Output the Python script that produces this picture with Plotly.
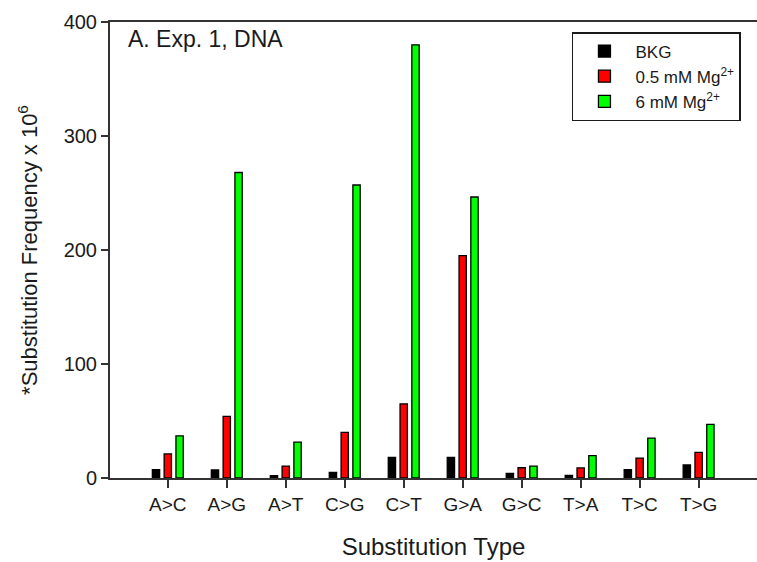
import plotly.graph_objects as go

categories = ["A>C", "A>G", "A>T", "C>G", "C>T", "G>A", "G>C", "T>A", "T>C", "T>G"]
bkg = [7.3, 7, 2, 5, 18, 18, 4, 2.3, 7.3, 11.4]
mg05 = [21.2, 54, 10.5, 40, 65, 195, 9, 8.8, 17.5, 22.5]
mg6 = [37, 268, 31.5, 257, 380, 246.5, 10.5, 19.6, 35, 47]
y_ticks = [0, 100, 200, 300, 400]

series = [
    ("BKG", bkg, "#000000"),
    ("0.5 mM Mg<sup>2+</sup>", mg05, "#ff0000"),
    ("6 mM Mg<sup>2+</sup>", mg6, "#00ff00"),
]

fig = go.Figure()
for name, vals, col in series:
    fig.add_trace(go.Bar(
        x=list(range(len(categories))), y=vals, name=name,
        marker=dict(color=col, line=dict(color="#000000", width=1.3)),
    ))

fig.update_layout(
    width=757, height=562,
    margin=dict(l=110, r=0, t=22, b=84),
    plot_bgcolor="white", paper_bgcolor="white",
    barmode="group", bargap=0.4, bargroupgap=0.38,
    font=dict(family="Liberation Sans, Arial, sans-serif", size=19, color="#1a1a1a"),
    showlegend=True,
    legend=dict(
        x=0.714, y=0.978, xanchor="left", yanchor="top",
        bordercolor="#1a1a1a", borderwidth=1.5, bgcolor="white",
        font=dict(size=17), tracegroupgap=0, itemwidth=52,
    ),
    annotations=[dict(
        text="A. Exp. 1, DNA", x=0.024, y=0.995, xref="paper", yref="paper",
        xanchor="left", yanchor="top", showarrow=False,
        font=dict(size=23, color="#1a1a1a"),
    )],
)

fig.update_xaxes(
    range=[-0.98, 9.99],
    tickmode="array", tickvals=list(range(len(categories))), ticktext=categories,
    ticks="outside", ticklen=8, tickwidth=1.5, tickcolor="#333333",
    showline=True, linecolor="#333333", linewidth=2, mirror=True,
    showgrid=False, zeroline=False,
    tickfont=dict(size=19),
    title=dict(text="Substitution Type", font=dict(size=24), standoff=24),
)
fig.update_yaxes(
    range=[0, 400], tickvals=y_ticks,
    ticks="outside", ticklen=7, tickwidth=1.5, tickcolor="#333333",
    showline=True, linecolor="#333333", linewidth=2,
    showgrid=False, zeroline=False,
    tickfont=dict(size=20),
    title=dict(text="*Substitution Frequency x 10<sup>6</sup>", font=dict(size=22), standoff=20),
)

fig.write_html("out.html")
